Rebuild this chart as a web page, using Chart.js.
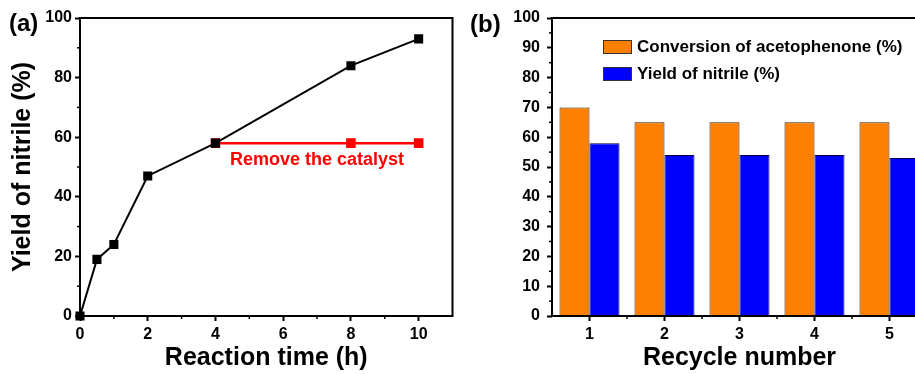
<!DOCTYPE html>
<html>
<head>
<meta charset="utf-8">
<script src="https://cdn.jsdelivr.net/npm/chart.js@4.4.1/dist/chart.umd.min.js"></script>
<style>
  html, body { margin: 0; padding: 0; background: #fff; overflow: hidden; }
  #wrap-a { position: absolute; left: 0; top: 0; width: 460px; height: 374px; }
  #wrap-b { position: absolute; left: 460px; top: 0; width: 480px; height: 374px; }
</style>
</head>
<body>
<div id="wrap-a"><canvas id="chart-a"></canvas></div>
<div id="wrap-b"><canvas id="chart-b"></canvas></div>
<script>
// (a) yield vs reaction time
const TIME_H = [0, 0.5, 1, 2, 4, 8, 10];
const YIELD_NITRILE = [0, 19, 24, 47, 58, 84, 93];
const REMOVE_TIME_H = [4, 8, 10];
const REMOVE_YIELD = [58, 58, 58];

// (b) recycling
const RECYCLES = ['1', '2', '3', '4', '5'];
const CONVERSION = [70, 65, 65, 65, 65];
const RECYCLE_YIELD = [58, 54, 54, 54, 53];

const FONT = 'Arial, "Liberation Sans", sans-serif';
Chart.defaults.font.family = FONT;
Chart.defaults.font.weight = 'bold';
Chart.defaults.color = '#000';
Chart.defaults.animation = false;

function fixSize(size) {
  return function (scale) {
    if (scale.isHorizontal()) {
      scale.height = size;
    } else {
      scale.width = size;
    }
    scale.paddingLeft = 0;
    scale.paddingRight = 0;
    scale.paddingTop = 0;
    scale.paddingBottom = 0;
  };
}

// box around the plot area
const framePlugin = {
  id: 'frame',
  afterDraw(chart) {
    const { ctx, chartArea } = chart;
    ctx.save();
    ctx.strokeStyle = '#000';
    ctx.lineWidth = 2;
    ctx.strokeRect(chartArea.left, chartArea.top, chartArea.right - chartArea.left, chartArea.bottom - chartArea.top);
    ctx.restore();
  }
};

// short outward ticks between the labelled ones
const minorTicksPlugin = {
  id: 'minorTicks',
  afterDraw(chart, args, opts) {
    const { ctx } = chart;
    ctx.save();
    ctx.strokeStyle = '#000';
    ctx.lineWidth = 1.5;
    for (const [id, values] of Object.entries(opts.ticks || {})) {
      const scale = chart.scales[id];
      values.forEach((v) => {
        const p = scale.getPixelForValue(v);
        ctx.beginPath();
        if (scale.isHorizontal()) {
          ctx.moveTo(p, scale.top);
          ctx.lineTo(p, scale.top + 3);
        } else {
          ctx.moveTo(scale.right, p);
          ctx.lineTo(scale.right - 3, p);
        }
        ctx.stroke();
      });
    }
    ctx.restore();
  }
};

const panelLabelPlugin = {
  id: 'panelLabel',
  afterDraw(chart, args, opts) {
    const { ctx } = chart;
    ctx.save();
    ctx.font = 'bold 24px ' + FONT;
    ctx.fillStyle = '#000';
    ctx.textBaseline = 'middle';
    ctx.fillText(opts.text, opts.x, opts.y);
    ctx.restore();
  }
};

const noteAPlugin = {
  id: 'note',
  afterDraw(chart) {
    const { ctx, scales } = chart;
    ctx.save();
    ctx.font = 'bold 18px ' + FONT;
    ctx.fillStyle = '#f00';
    ctx.textAlign = 'center';
    ctx.textBaseline = 'middle';
    ctx.fillText('Remove the catalyst', scales.x.getPixelForValue(7), scales.y.getPixelForValue(52.5));
    ctx.restore();
  }
};

const legendBPlugin = {
  id: 'legendB',
  afterDraw(chart) {
    const { ctx, chartArea } = chart;
    ctx.save();
    ctx.font = 'bold 17px ' + FONT;
    ctx.textBaseline = 'middle';
    chart.data.datasets.forEach((ds, i) => {
      const x = chartArea.left + 51;
      const y = chartArea.top + 22 + i * 27;
      ctx.fillStyle = ds.backgroundColor;
      ctx.fillRect(x, y, 29, 14);
      ctx.strokeStyle = '#333';
      ctx.lineWidth = 1;
      ctx.strokeRect(x + 0.5, y + 0.5, 28, 13);
      ctx.fillStyle = '#000';
      ctx.fillText(ds.label, x + 34, y + 7);
    });
    ctx.restore();
  }
};

function tickGrid() {
  return {
    display: true,
    drawOnChartArea: false,
    drawTicks: true,
    tickLength: 5,
    tickWidth: 2,
    tickColor: '#000'
  };
}

function loadTimeChart() {
  const el = document.getElementById('chart-a');
  new Chart(el, {
    type: 'line',
    data: {
      datasets: [
        {
          data: TIME_H.map((t, i) => ({ x: t, y: YIELD_NITRILE[i] })),
          borderColor: '#000',
          backgroundColor: '#000',
          borderWidth: 2,
          pointStyle: 'rect',
          pointRadius: 5,
          clip: false
        },
        {
          data: REMOVE_TIME_H.map((t, i) => ({ x: t, y: REMOVE_YIELD[i] })),
          borderColor: '#f00',
          backgroundColor: '#f00',
          borderWidth: 2.5,
          pointStyle: 'rect',
          pointRadius: 5,
          clip: false
        }
      ]
    },
    options: {
      responsive: true,
      maintainAspectRatio: false,
      layout: { padding: { left: 0, top: 18, right: 6, bottom: 0 } },
      scales: {
        x: {
          type: 'linear',
          min: 0,
          max: 11,
          border: { display: false },
          grid: tickGrid(),
          ticks: { stepSize: 2, includeBounds: false, padding: 4, font: { size: 16 } },
          title: { display: true, text: 'Reaction time (h)', font: { size: 25 }, padding: { top: 0, bottom: 1 } },
          afterFit: fixSize(58)
        },
        y: {
          min: 0,
          max: 100,
          border: { display: false },
          grid: tickGrid(),
          ticks: { stepSize: 20, padding: 3, font: { size: 16 } },
          title: { display: true, text: 'Yield of nitrile (%)', font: { size: 25 }, padding: { top: 8, bottom: 0 } },
          afterFit: fixSize(80)
        }
      },
      plugins: {
        legend: { display: false },
        tooltip: { enabled: false },
        minorTicks: { ticks: { x: [1, 3, 5, 7, 9], y: [10, 30, 50, 70, 90] } },
        panelLabel: { text: '(a)', x: 9, y: 24 }
      }
    },
    plugins: [framePlugin, minorTicksPlugin, panelLabelPlugin, noteAPlugin]
  });
}

function loadRecycleChart() {
  const el = document.getElementById('chart-b');
  new Chart(el, {
    type: 'bar',
    data: {
      labels: RECYCLES,
      datasets: [
        {
          label: 'Conversion of acetophenone (%)',
          data: CONVERSION,
          backgroundColor: '#ff8000',
          borderColor: '#3a1a00',
          borderWidth: 1
        },
        {
          label: 'Yield of nitrile (%)',
          data: RECYCLE_YIELD,
          backgroundColor: '#0000ff',
          borderColor: '#000044',
          borderWidth: 1
        }
      ]
    },
    options: {
      responsive: true,
      maintainAspectRatio: false,
      layout: { padding: { left: 0, top: 18, right: 13, bottom: 0 } },
      datasets: { bar: { categoryPercentage: 0.8, barPercentage: 1.0 } },
      scales: {
        x: {
          border: { display: false },
          grid: Object.assign(tickGrid(), { offset: false }),
          ticks: { padding: 4, font: { size: 16 } },
          title: { display: true, text: 'Recycle number', font: { size: 25 }, padding: { top: 0, bottom: 1 } },
          afterFit: fixSize(58)
        },
        y: {
          min: 0,
          max: 100,
          border: { display: false },
          grid: tickGrid(),
          ticks: { stepSize: 10, padding: 7, font: { size: 16 } },
          afterFit: fixSize(92)
        }
      },
      plugins: {
        legend: { display: false },
        tooltip: { enabled: false },
        minorTicks: { ticks: { x: [0.5, 1.5, 2.5, 3.5], y: [5, 15, 25, 35, 45, 55, 65, 75, 85, 95] } },
        panelLabel: { text: '(b)', x: 10, y: 25 }
      }
    },
    plugins: [framePlugin, minorTicksPlugin, panelLabelPlugin, legendBPlugin]
  });
}

loadTimeChart();
loadRecycleChart();
</script>
</body>
</html>
